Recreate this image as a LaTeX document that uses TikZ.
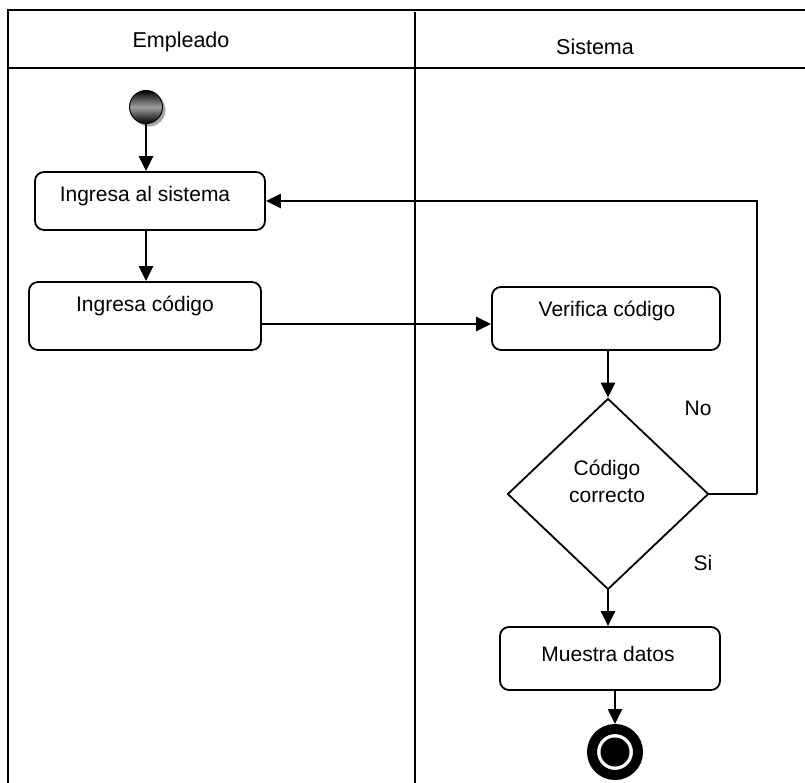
\documentclass[tikz,border=0pt]{standalone}
\usepackage{fontspec}
\setmainfont{Liberation Sans}
\usetikzlibrary{shapes.geometric,arrows.meta,shadows}
\begin{document}
\begin{tikzpicture}[x=1pt,y=-1pt,
  frame/.style={line width=2pt},
  actbox/.style={draw,line width=1.8pt,rounded corners=9pt,inner sep=0pt},
  txt/.style={font=\fontsize{21}{25}\selectfont,inner sep=0pt,align=center},
  head/.style={font=\fontsize{21.5}{26}\selectfont,inner sep=0pt},
  flow/.style={line width=2.6pt,-{Triangle[length=15pt,width=14pt]}},
  plain/.style={line width=2.4pt}]
\useasboundingbox (0,0) rectangle (805,783);
% frame
\draw[frame] (805,10) -- (8,10) -- (8,785);
\draw[frame] (8,68) -- (805,68);
\draw[frame] (415,12) -- (415,785);
\node[head] (h1) at (181,42) {Empleado};
\node[head] (h2) at (595,47) {Sistema};
% start
\node[circle,draw,line width=1pt,minimum size=33pt,inner sep=0pt,
  top color=black,bottom color=black,middle color=gray!75,
  drop shadow={shadow xshift=3pt,shadow yshift=-3pt,fill=gray!70,opacity=1}] (start) at (146,107) {};
% boxes
\node[actbox,minimum width=230pt,minimum height=58pt] (a) at (150,201) {};
\node[txt] (ta) at (145,196) {Ingresa al sistema};
\node[actbox,minimum width=232pt,minimum height=68pt] (b) at (145,316) {};
\node[txt] (tb) at (145,306) {Ingresa código};
\node[actbox,minimum width=228pt,minimum height=63pt] (c) at (606,318.5) {};
\node[txt] (tc) at (607,311) {Verifica código};
\node[diamond,draw,line width=1.8pt,minimum width=201pt,minimum height=191pt,inner sep=0pt] (d) at (608,494) {};
\node[txt] (td) at (607,481) {Código\\[2pt]correcto};
\node[actbox,minimum width=220pt,minimum height=63pt] (e) at (610,658.5) {};
\node[txt] (te) at (608,654) {Muestra datos};
% end
\node[circle,draw,line width=10pt,minimum size=46pt,inner sep=0pt,
  path picture={\fill[black] (path picture bounding box.center) circle (14.5pt);}] (end) at (615,752) {};
% labels
\node[txt] (no) at (698,408) {No};
\node[txt] (si) at (703,563) {Si};
% connectors
\draw[flow] (start.south) -- (start.south |- a.north);
\draw[flow] (a.south -| start) -- (b.north -| start);
\draw[flow] ([yshift=-8pt]b.east) -- ([yshift=-8pt]b.east -| c.west);
\draw[flow] (c.south -| d.north) -- (d.north);
\draw[flow] (d.south) -- (d.south |- e.north);
\draw[flow] (e.south -| end.north) -- (end.north);
\coordinate (loop) at (757,494);
\draw[plain] (d.east) -- (loop);
\draw[flow] (loop) |- (a.east);
\end{tikzpicture}
\end{document}
